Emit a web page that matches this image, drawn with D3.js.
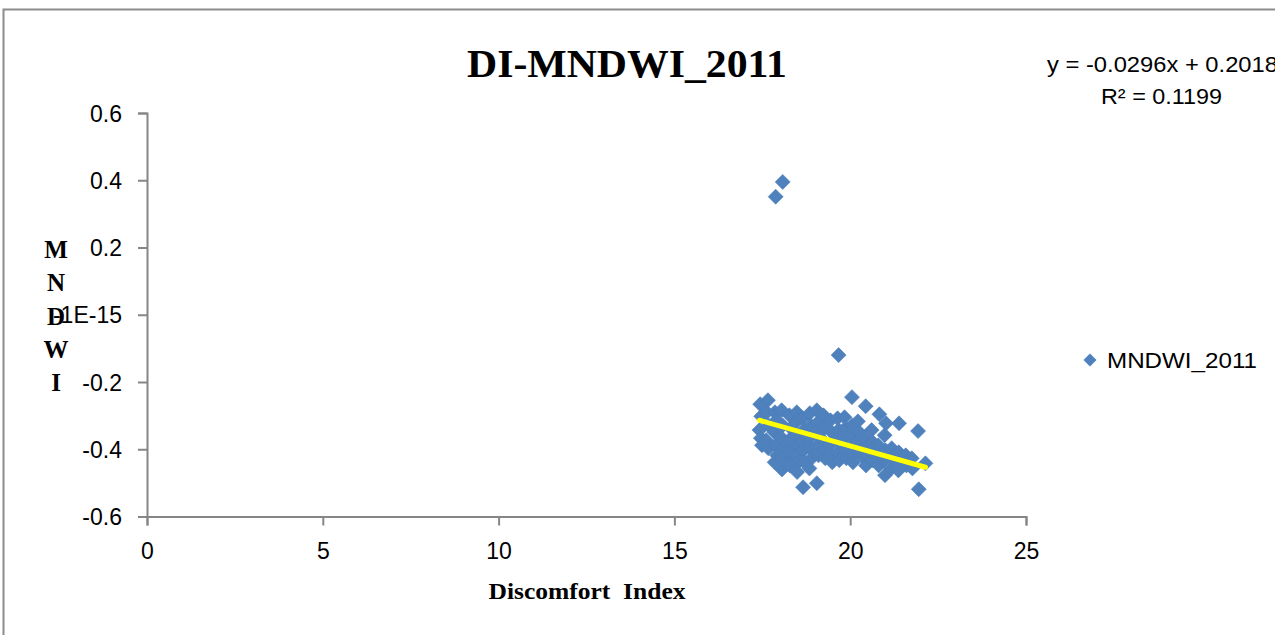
<!DOCTYPE html>
<html>
<head>
<meta charset="utf-8">
<script src="https://cdn.jsdelivr.net/npm/d3@7"></script>
<style>
  html, body { margin: 0; padding: 0; background: #ffffff; }
  svg { display: block; }
</style>
</head>
<body>
<svg id="chart" width="1275" height="635"></svg>
<script>
// Discomfort Index (x) against MNDWI (y), 2011
const di = [
  17.44, 17.47, 17.42, 17.46, 17.49,
  17.66, 17.63, 17.68, 17.61, 17.67,
  17.86, 17.90, 17.84, 17.88, 17.92, 17.85,
  18.05, 18.08, 18.03, 18.10, 18.07, 18.06,
  18.27, 18.31, 18.26, 18.30, 18.33, 18.28,
  18.48, 18.51, 18.46, 18.50, 18.47, 18.52, 18.49,
  18.65, 18.68, 18.63, 18.67, 18.70, 18.66,
  18.85, 18.88, 18.83, 18.87, 18.90, 18.84,
  19.05, 19.08, 19.03, 19.07, 19.10, 19.05,
  19.24, 19.27, 19.22, 19.26, 19.29,
  19.44, 19.47, 19.42, 19.46, 19.49,
  19.64, 19.67, 19.62, 19.66, 19.69, 19.67,
  19.84, 19.87, 19.83, 19.86, 19.89,
  20.05, 20.06, 20.03, 20.07, 20.04, 20.08,
  20.22, 20.25, 20.20, 20.24,
  20.44, 20.41, 20.43, 20.40, 20.45,
  20.61, 20.64, 20.60, 20.63,
  20.83, 20.80, 20.84, 20.81,
  21.02, 20.98, 21.00, 20.97, 20.99,
  21.18, 21.20, 21.17,
  21.39, 21.38, 21.41, 21.37,
  21.58, 21.60,
  21.75, 21.77,
  21.93, 21.95,
  22.14,
  18.08, 17.88
];
const mndwi = [
  -0.266, -0.302, -0.343, -0.367, -0.388,
  -0.254, -0.290, -0.329, -0.373, -0.397,
  -0.290, -0.314, -0.349, -0.388, -0.418, -0.439,
  -0.284, -0.329, -0.364, -0.397, -0.427, -0.460,
  -0.299, -0.337, -0.373, -0.409, -0.433, -0.448,
  -0.290, -0.314, -0.358, -0.388, -0.418, -0.439, -0.468,
  -0.308, -0.343, -0.379, -0.403, -0.439, -0.513,
  -0.293, -0.329, -0.367, -0.397, -0.427, -0.457,
  -0.284, -0.320, -0.349, -0.388, -0.418, -0.501,
  -0.299, -0.337, -0.373, -0.403, -0.427,
  -0.314, -0.349, -0.388, -0.418, -0.439,
  -0.308, -0.343, -0.373, -0.409, -0.433, -0.120,
  -0.305, -0.337, -0.367, -0.397, -0.427,
  -0.245, -0.329, -0.358, -0.388, -0.418, -0.439,
  -0.317, -0.349, -0.379, -0.409,
  -0.272, -0.367, -0.397, -0.427, -0.448,
  -0.343, -0.379, -0.403, -0.433,
  -0.296, -0.388, -0.418, -0.448,
  -0.323, -0.358, -0.403, -0.433, -0.477,
  -0.397, -0.427, -0.457,
  -0.323, -0.409, -0.439, -0.463,
  -0.418, -0.448,
  -0.427, -0.457,
  -0.346, -0.519,
  -0.442,
  0.395, 0.351
];

// Linear trend line as reported
const trendSlope = -0.0296;
const trendIntercept = 0.2018;
const rSquared = 0.1199;

const xTicks = [0, 5, 10, 15, 20, 25];
const yTicks = [0.6, 0.4, 0.2, 0, -0.2, -0.4, -0.6];
const yTickLabels = ["0.6", "0.4", "0.2", "-1E-15", "-0.2", "-0.4", "-0.6"];

const seriesName = "MNDWI_2011";
const chartTitle = "DI-MNDWI_2011";
const xTitle = "Discomfort  Index";
const yTitleLetters = ["M", "N", "D", "W", "I"];

const svg = d3.select("#chart");
const axisGrey = "#868686";
const markerBlue = "#4F81BD";
const sansFont = "'Liberation Sans', Arial, sans-serif";
const serifFont = "'Liberation Serif', 'Times New Roman', serif";

// outer chart frame
svg.append("rect")
  .attr("x", 3.5).attr("y", 9.5)
  .attr("width", 1320).attr("height", 700)
  .attr("fill", "#ffffff")
  .attr("stroke", "#8c8c8c").attr("stroke-width", 2);

const x = d3.scaleLinear().domain([0, 25]).range([147, 1026]);
const y = d3.scaleLinear().domain([-0.6, 0.6]).range([516.5, 113]);

// y axis
const yAxis = d3.axisLeft(y)
  .tickValues(yTicks)
  .tickSize(9)
  .tickPadding(16)
  .tickFormat((d, i) => yTickLabels[i]);
const gy = svg.append("g").attr("transform", `translate(${x(0)},0)`).call(yAxis);
gy.select(".domain").attr("stroke", axisGrey).attr("stroke-width", 2);
gy.selectAll(".tick line").attr("stroke", axisGrey).attr("stroke-width", 2);
gy.selectAll(".tick text")
  .attr("fill", "#000").attr("font-family", sansFont).attr("font-size", 23)
  .attr("dy", "0.35em");

// x axis
const xAxis = d3.axisBottom(x)
  .tickValues(xTicks)
  .tickSize(9)
  .tickPadding(17)
  .tickFormat(d3.format("d"));
const gx = svg.append("g").attr("transform", `translate(0,${y(-0.6)})`).call(xAxis);
gx.select(".domain").attr("stroke", axisGrey).attr("stroke-width", 2);
gx.selectAll(".tick line").attr("stroke", axisGrey).attr("stroke-width", 2);
gx.selectAll(".tick text")
  .attr("fill", "#000").attr("font-family", sansFont).attr("font-size", 23)
  .attr("dy", "0.71em");

// scatter markers (diamonds)
const diamond = "M0,-7.5L7.5,0L0,7.5L-7.5,0Z";
const points = di.map((d, i) => ({ x: d, y: mndwi[i] }));
svg.append("g")
  .selectAll("path")
  .data(points)
  .join("path")
  .attr("d", diamond)
  .attr("transform", d => `translate(${x(d.x)},${y(d.y)})`)
  .attr("fill", markerBlue)
  .attr("stroke", "#4A7EBB")
  .attr("stroke-width", 0.6);

// trend line across the data range
const xMin = d3.min(di), xMax = d3.max(di);
svg.append("line")
  .attr("x1", x(xMin)).attr("y1", y(trendSlope * xMin + trendIntercept))
  .attr("x2", x(xMax)).attr("y2", y(trendSlope * xMax + trendIntercept))
  .attr("stroke", "#FFFF00")
  .attr("stroke-width", 5)
  .attr("stroke-linecap", "round");

// title
svg.append("text")
  .attr("x", 627).attr("y", 77)
  .attr("text-anchor", "middle")
  .attr("font-family", serifFont).attr("font-weight", "bold")
  .attr("font-size", 40)
  .attr("textLength", 320).attr("lengthAdjust", "spacingAndGlyphs")
  .text(chartTitle);

// y axis title, stacked letters
svg.append("g").selectAll("text")
  .data(yTitleLetters)
  .join("text")
  .attr("x", 56)
  .attr("y", (d, i) => 258 + i * 33.3)
  .attr("text-anchor", "middle")
  .attr("font-family", serifFont).attr("font-weight", "bold")
  .attr("font-size", 25)
  .text(d => d);

// x axis title
svg.append("text")
  .attr("x", 587).attr("y", 599)
  .attr("text-anchor", "middle")
  .attr("font-family", serifFont).attr("font-weight", "bold")
  .attr("font-size", 23)
  .attr("textLength", 197).attr("lengthAdjust", "spacingAndGlyphs")
  .style("white-space", "pre")
  .text(xTitle);

// trend equation label
const fmt4 = d3.format(".4f");
const eqText = `y = ${fmt4(trendSlope)}x + ${fmt4(trendIntercept)}`.replace("−", "-");
svg.append("text")
  .attr("x", 1047).attr("y", 72)
  .attr("font-family", sansFont).attr("font-size", 22)
  .attr("textLength", 231).attr("lengthAdjust", "spacingAndGlyphs")
  .text(eqText);
svg.append("text")
  .attr("x", 1101).attr("y", 104)
  .attr("font-family", sansFont).attr("font-size", 22)
  .attr("textLength", 121).attr("lengthAdjust", "spacingAndGlyphs")
  .text(`R² = ${fmt4(rSquared)}`);

// legend
const legend = svg.append("g").attr("transform", "translate(1090,360)");
legend.append("path").attr("d", "M0,-6.5L6.5,0L0,6.5L-6.5,0Z").attr("fill", markerBlue);
legend.append("text")
  .attr("x", 17).attr("y", 8)
  .attr("font-family", sansFont).attr("font-size", 22)
  .attr("textLength", 150).attr("lengthAdjust", "spacingAndGlyphs")
  .text(seriesName);
</script>
</body>
</html>
